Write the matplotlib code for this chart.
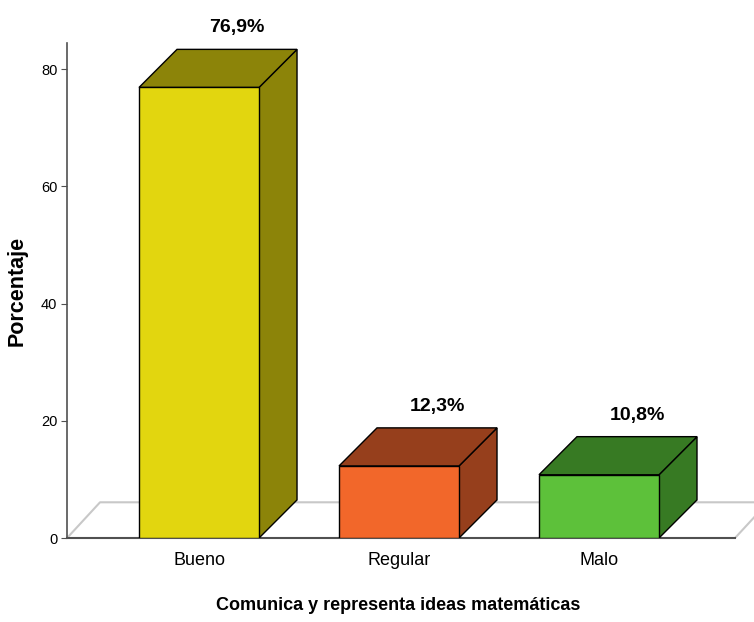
import matplotlib.pyplot as plt
from matplotlib.patches import Polygon

categories = ['Bueno', 'Regular', 'Malo']
percentages = [76.9, 12.3, 10.8]
value_labels = ['76,9%', '12,3%', '10,8%']
front_colors = ['#E2D60F', '#F2672A', '#5DC13A']
shade_colors = ['#8C8409', '#963F1C', '#377A23']
yticks = [0, 20, 40, 60, 80]

plain = ['Liberation Sans', 'DejaVu Sans']

fig = plt.figure(figsize=(7.54, 6.22), dpi=100)
ax = fig.add_axes([0.0889, 0.135, 0.9111, 0.796])

bar_w = 0.6
dx, dy = 0.19, 6.5      # depth offset of the 3D boxes
fdx, fdy = 0.165, 6.1   # depth offset of the floor
x_left, x_right = -0.66, 2.68

# floor: light grey back edges, darker front edge
ax.plot([x_left, x_left + fdx, 3.2], [0, fdy, fdy], color='#c8c8c8', lw=1.5, zorder=1)
ax.plot([x_right, x_right + fdx], [0, fdy], color='#c8c8c8', lw=1.5, zorder=1)
ax.plot([x_left, x_right], [0, 0], color='#505050', lw=1.5, zorder=1, clip_on=False)

for i, (v, fc, sc) in enumerate(zip(percentages, front_colors, shade_colors)):
    x0, x1 = i - bar_w / 2, i + bar_w / 2
    front = Polygon([(x0, 0), (x1, 0), (x1, v), (x0, v)], closed=True,
                    facecolor=fc, edgecolor='black', lw=1, zorder=3)
    side = Polygon([(x1, 0), (x1 + dx, dy), (x1 + dx, v + dy), (x1, v)], closed=True,
                   facecolor=sc, edgecolor='black', lw=1, zorder=2)
    top = Polygon([(x0, v), (x1, v), (x1 + dx, v + dy), (x0 + dx, v + dy)], closed=True,
                  facecolor=sc, edgecolor='black', lw=1, zorder=2)
    for p in (side, top, front):
        ax.add_patch(p)
    ax.text(i + dx, v + dy + 2.2, value_labels[i], ha='center', va='bottom',
            fontsize=14, fontweight='bold', family=plain, zorder=4)

ax.set_xlim(-0.66, 2.775)
ax.set_ylim(0, 84.5)

for s in ['top', 'right', 'bottom']:
    ax.spines[s].set_visible(False)
ax.spines['left'].set_color('#505050')
ax.spines['left'].set_linewidth(1.2)

ax.set_yticks(yticks)
ax.set_yticklabels([str(t) for t in yticks], family=plain, fontsize=10.5)
ax.tick_params(axis='y', length=4, color='#505050', pad=3)
ax.set_xticks(range(len(categories)))
ax.set_xticklabels(categories, family=plain, fontsize=13)
ax.tick_params(axis='x', length=0, pad=10)

ax.set_ylabel('Porcentaje', fontsize=15.5, fontweight='bold', family=plain)
ax.yaxis.set_label_coords(-0.057, 0.50)
ax.set_xlabel('Comunica y representa ideas matemáticas', fontsize=13,
              fontweight='bold', family=plain)
ax.xaxis.set_label_coords(0.482, -0.12)

fig.savefig('out.png', dpi=100)
